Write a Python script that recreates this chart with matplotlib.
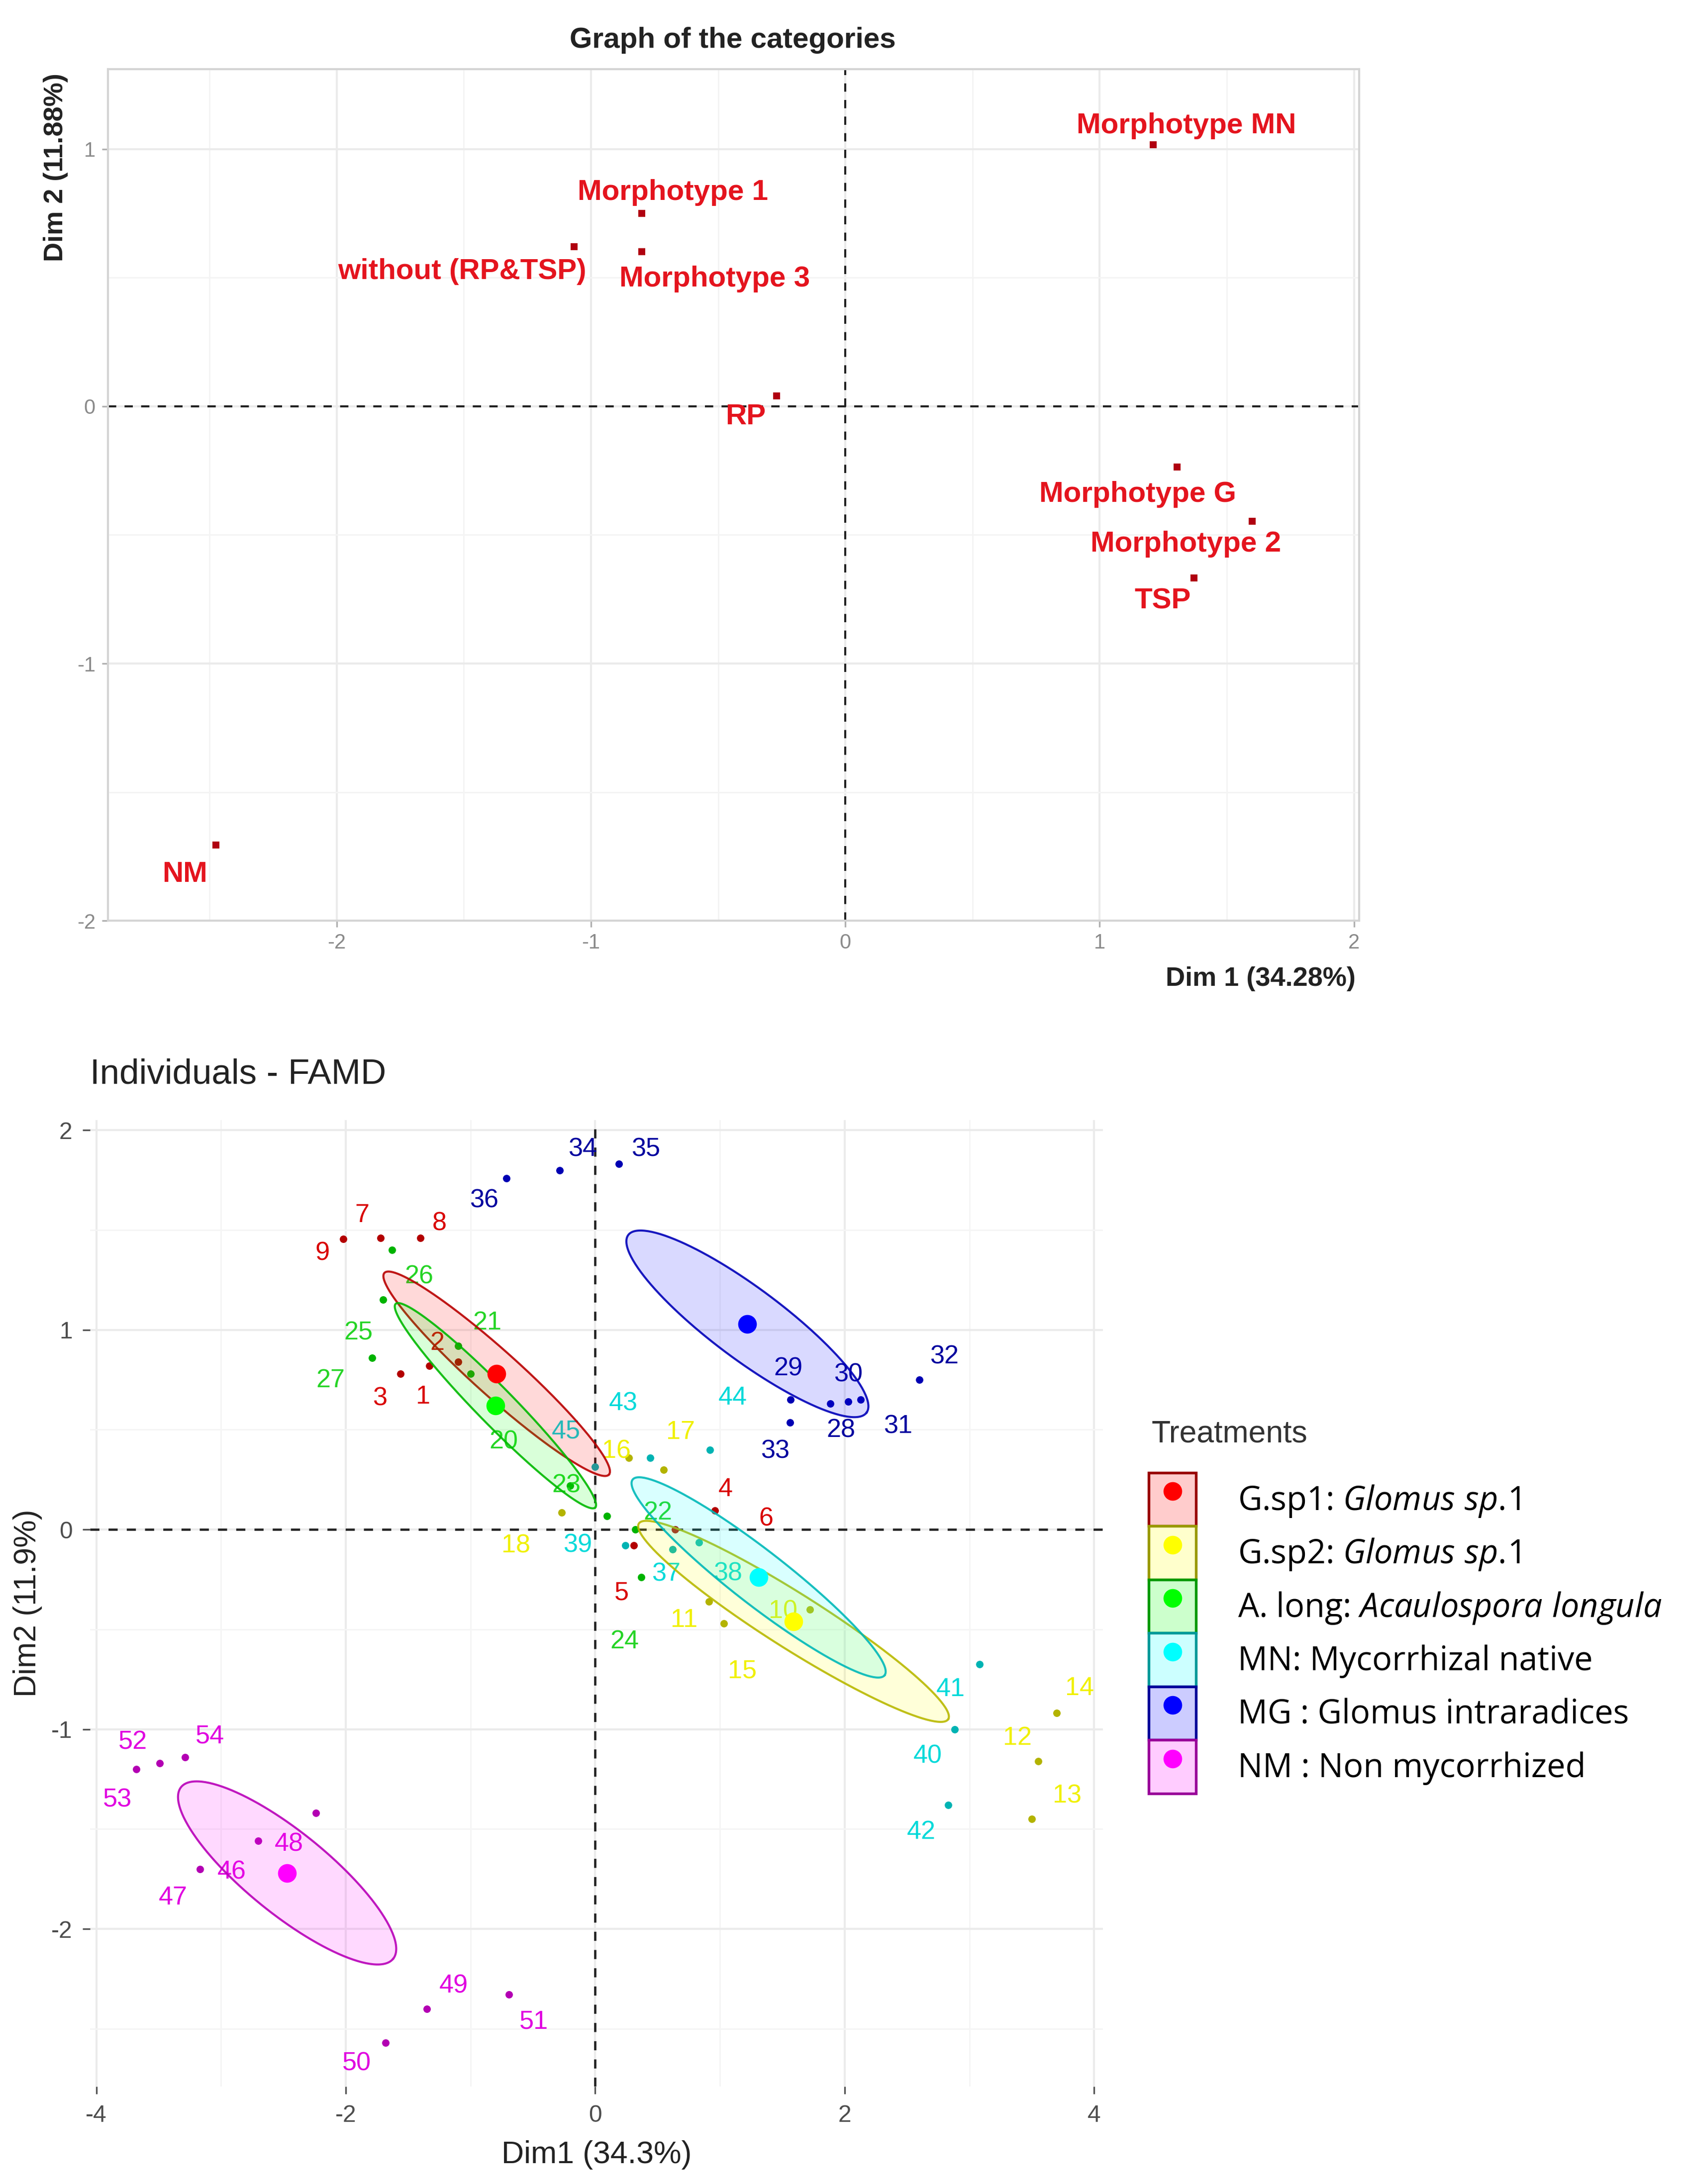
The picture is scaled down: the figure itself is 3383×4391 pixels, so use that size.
import numpy as np
import matplotlib.pyplot as plt
from matplotlib.patches import Patch
from matplotlib.lines import Line2D
from matplotlib.ticker import MultipleLocator
from matplotlib.colors import to_rgb

plt.rcParams['font.family'] = ['Liberation Sans', 'DejaVu Sans']
plt.rcParams['axes.unicode_minus'] = False
plt.rcParams['mathtext.fontset'] = 'custom'
plt.rcParams['mathtext.rm'] = 'Open Sans'
plt.rcParams['mathtext.it'] = 'Open Sans:italic'

# ---------------- data : graph of the categories ----------------
cat_names = ['Morphotype MN', 'Morphotype 1', 'without (RP&TSP)', 'Morphotype 3', 'RP',
             'Morphotype G', 'Morphotype 2', 'TSP', 'NM']
cat_dim1 = [1.21, -0.80, -1.066, -0.80, -0.27, 1.304, 1.60, 1.37, -2.475]
cat_dim2 = [1.017, 0.75, 0.62, 0.60, 0.04, -0.237, -0.447, -0.668, -1.706]

# ---------------- data : individuals - FAMD ----------------
ind_names = [str(i) for i in range(1, 55)]
ind_dim1 = [-1.33, -1.10, -1.56, 0.96, 0.31, 0.64, -1.72, -1.40, -2.02,
            1.72, 0.91, 3.55, 3.50, 3.70, 1.03, 0.27, 0.55, -0.27,
            0.095, -1.00, -1.10, 0.32, -0.20, 0.37, -1.70, -1.63, -1.79,
            1.886, 1.565, 2.03, 2.13, 2.60, 1.56, -0.285, 0.19, -0.71,
            0.62, 0.83, 0.24, 2.88, 3.08, 2.83, 0.44, 0.92, 0.0,
            -2.70, -3.17, -2.24, -1.35, -1.68, -0.69, -3.49, -3.68, -3.29]
ind_dim2 = [0.82, 0.84, 0.78, 0.096, -0.08, 0.0, 1.46, 1.46, 1.455,
            -0.40, -0.36, -1.16, -1.45, -0.92, -0.47, 0.36, 0.30, 0.085,
            0.067, 0.78, 0.92, 0.0, 0.22, -0.24, 1.15, 1.40, 0.86,
            0.63, 0.65, 0.64, 0.65, 0.75, 0.536, 1.80, 1.83, 1.76,
            -0.10, -0.065, -0.08, -1.00, -0.675, -1.38, 0.36, 0.40, 0.315,
            -1.56, -1.70, -1.42, -2.40, -2.57, -2.33, -1.17, -1.20, -1.14]
# treatment index of each individual (order of the legend)
ind_group = [0] * 9 + [1] * 9 + [2] * 9 + [4] * 9 + [3] * 9 + [5] * 9

treatments = ['G.sp1: $\\mathit{Glomus\\ sp.\\!1}$',
              'G.sp2: $\\mathit{Glomus\\ sp.\\!1}$',
              'A. long: $\\mathit{Acaulospora\\ longula}$',
              'MN: Mycorrhizal native',
              'MG : Glomus intraradices',
              'NM : Non mycorrhized']
colors = ['#FF0000', '#FFFF00', '#00FF00', '#00FFFF', '#0000FF', '#FF00FF']

# group means and confidence ellipses (semi-major axis vector, minor/major ratio)
cen_dim1 = [-0.79, 1.59, -0.80, 1.31, 1.22, -2.47]
cen_dim2 = [0.78, -0.46, 0.62, -0.24, 1.03, -1.72]
ell_major_dx = [0.90, 1.24, 0.80, 1.01, 0.955, 0.85]
ell_major_dy = [-0.505, -0.49, -0.51, -0.49, -0.445, -0.43]
ell_ratio = [0.15, 0.15, 0.13, 0.17, 0.24, 0.30]

# ---------------- label nudges (points) ----------------
cat_nudge = [(16, 9), (15, 10), (-54, -12), (35, -13), (-15, -10),
             (-19, -13), (-32, -11), (-15, -11), (-15, -14)]
ind_nudge = {
    '1': (-3, -15), '2': (-10, 9), '3': (-10, -12), '4': (5, 10), '5': (-6, -23),
    '6': (44, 5), '7': (-9, 11), '8': (9, 7), '9': (-10, -7),
    '10': (-13, -1), '11': (-12, -9), '12': (-10, 11), '13': (17, 11), '14': (11, 12),
    '15': (9, -23), '16': (-6, 3), '17': (8, 18), '18': (-22, -16),
    '19': None, '20': (16, -33), '21': (14, 11), '22': (11, 8), '23': (-2, 0),
    '24': (-8, -31), '25': (-12, -16), '26': (13, -13), '27': (-20, -11),
    '28': (5, -13), '29': (-1, 15), '30': (0, 13), '31': (18, -13), '32': (12, 11),
    '33': (-7, -14), '34': (11, 10), '35': (13, 7), '36': (-11, -11),
    '37': (-3, -12), '38': (14, -15), '39': (-23, 0), '40': (-13, -13), '41': (-14, -12),
    '42': (-13, -13), '43': (-13, 26), '44': (11, 25), '45': (-14, 17),
    '46': (-13, -15), '47': (-13, -14), '48': (-13, -15), '49': (13, 11), '50': (-14, -10),
    '51': (12, -13), '52': (-13, 10), '53': (-9, -15), '54': (12, 10),
}


def shade(c, f):
    r = np.array(to_rgb(c))
    return tuple(r * f)


def tint(c, f):
    r = np.array(to_rgb(c))
    return tuple(1 - (1 - r) * f)


text_cols = [shade('#FF0000', 0.85), shade('#FFFF00', 0.94), tint(shade('#00FF00', 0.8), 0.85),
             shade('#00FFFF', 0.85), shade('#0000FF', 0.62), shade('#FF00FF', 0.88)]

fig = plt.figure(figsize=(3383 / 300, 4391 / 300), dpi=300)

# =============== top : graph of the categories ===============
ax1 = fig.add_axes([0.0641, 0.5784, 0.7434, 0.3899])
ax1.set_xlim(-2.9, 2.02)
ax1.set_ylim(-2.0, 1.31)
ax1.xaxis.set_major_locator(MultipleLocator(1))
ax1.xaxis.set_minor_locator(MultipleLocator(0.5))
ax1.yaxis.set_major_locator(MultipleLocator(1))
ax1.yaxis.set_minor_locator(MultipleLocator(0.5))
ax1.grid(which='major', color='#EBEBEB', lw=1.0)
ax1.grid(which='minor', color='#F4F4F4', lw=0.7)
ax1.set_axisbelow(True)
for s in ax1.spines.values():
    s.set_color('#D4D4D4')
    s.set_linewidth(1.0)
ax1.tick_params(which='major', length=3, color='#B0B0B0', labelsize=10, labelcolor='#8A8A8A', pad=3)
ax1.tick_params(which='minor', length=0)
ax1.axhline(0, color='#222222', ls=(0, (4, 4)), lw=1.0)
ax1.axvline(0, color='#222222', ls=(0, (4, 4)), lw=1.0)
ax1.plot(cat_dim1, cat_dim2, 's', color='#B00010', ms=3.4, mew=0)
for name, x, y, off in zip(cat_names, cat_dim1, cat_dim2, cat_nudge):
    ax1.annotate(name, (x, y), xytext=off, textcoords='offset points', ha='center', va='center',
                 fontsize=14, fontweight='bold', color='#E4141E')

fig.text(0.0641 + 0.7434 * 0.4993, 0.9816, 'Graph of the categories', ha='center', va='center',
         fontsize=14, fontweight='bold', color='#222222')
fig.text(40 / 1213, 0.9666, 'Dim 2 (11.88%)', rotation=90, ha='center', va='top',
         fontsize=13, fontweight='bold', color='#222222')
fig.text(977 / 1213, 1 - 706 / 1575, 'Dim 1 (34.28%)', ha='right', va='center',
         fontsize=13, fontweight='bold', color='#222222')

# =============== bottom : individuals - FAMD ===============
ax2 = fig.add_axes([0.0535, 0.0446, 0.6018, 0.4425])
ax2.set_xlim(-4.05, 4.07)
ax2.set_ylim(-2.79, 2.05)
ax2.xaxis.set_major_locator(MultipleLocator(2))
ax2.xaxis.set_minor_locator(MultipleLocator(1))
ax2.yaxis.set_major_locator(MultipleLocator(1))
ax2.yaxis.set_minor_locator(MultipleLocator(0.5))
ax2.grid(which='major', color='#EBEBEB', lw=1.0)
ax2.grid(which='minor', color='#F5F5F5', lw=0.7)
ax2.set_axisbelow(True)
for s in ax2.spines.values():
    s.set_visible(False)
ax2.tick_params(which='major', length=3.5, color='#555555', labelsize=11.5, labelcolor='#4D4D4D', pad=5)
ax2.tick_params(which='minor', length=0)
ax2.axhline(0, color='#222222', ls=(0, (4, 4)), lw=1.1)
ax2.axvline(0, color='#222222', ls=(0, (4, 4)), lw=1.1)

# individuals
for g in range(6):
    xs = [x for x, k in zip(ind_dim1, ind_group) if k == g]
    ys = [y for y, k in zip(ind_dim2, ind_group) if k == g]
    ax2.plot(xs, ys, 'o', color=shade(colors[g], 0.7), ms=3.6, mew=0, zorder=3)

for name, x, y, g in zip(ind_names, ind_dim1, ind_dim2, ind_group):
    off = ind_nudge[name]
    if off is None:
        continue
    ax2.annotate(name, (x, y), xytext=off, textcoords='offset points', ha='center', va='center',
                 fontsize=12.5, color=text_cols[g], zorder=4)

# confidence ellipses
tt = np.linspace(0, 2 * np.pi, 240)
T = ax2.transData
for g in range(6):
    c = T.transform((cen_dim1[g], cen_dim2[g]))
    a = T.transform((cen_dim1[g] + ell_major_dx[g], cen_dim2[g] + ell_major_dy[g])) - c
    b = ell_ratio[g] * np.array([-a[1], a[0]])
    pts = c + np.outer(np.cos(tt), a) + np.outer(np.sin(tt), b)
    d = T.inverted().transform(pts)
    ax2.fill(d[:, 0], d[:, 1], facecolor=colors[g], alpha=0.15, edgecolor='none', zorder=5)
    ax2.plot(d[:, 0], d[:, 1], color=shade(colors[g], 0.72), lw=1.0, alpha=0.9, zorder=5)

# group means
for g in range(6):
    ax2.plot(cen_dim1[g], cen_dim2[g], 'o', color=colors[g], ms=9, mew=0, zorder=6)

fig.text(65 / 1213, 1 - 775 / 1575, 'Individuals - FAMD', ha='left', va='center',
         fontsize=17, color='#222222')
fig.text(0.0535 + 0.6018 / 2, 1 - 1554 / 1575, 'Dim1 (34.3%)', ha='center', va='center',
         fontsize=15, color='#222222')
fig.text(20 / 1213, 0.0446 + 0.4425 / 2, 'Dim2 (11.9%)', rotation=90, ha='center', va='center',
         fontsize=15, color='#222222')

# legend
fig.text(830 / 1213, 1 - 1034 / 1575, 'Treatments', ha='left', va='center',
         fontsize=15, color='#333333')
handles = []
for g in range(6):
    box = Patch(facecolor=tint(colors[g], 0.2), edgecolor=shade(colors[g], 0.6), lw=1.3)
    dot = Line2D([], [], marker='o', color=colors[g], ls='', ms=9, mew=0)
    handles.append((box, dot))
leg = fig.legend(handles, treatments, loc='upper left',
                 bbox_to_anchor=(828 / 1213, 1 - 1062 / 1575), frameon=False,
                 prop={'family': 'Open Sans', 'size': 16},
                 handlelength=1.425, handleheight=2.104, handletextpad=1.25,
                 labelspacing=0.0, borderpad=0, borderaxespad=0, alignment='left')

fig.savefig('out.png', dpi=300)
